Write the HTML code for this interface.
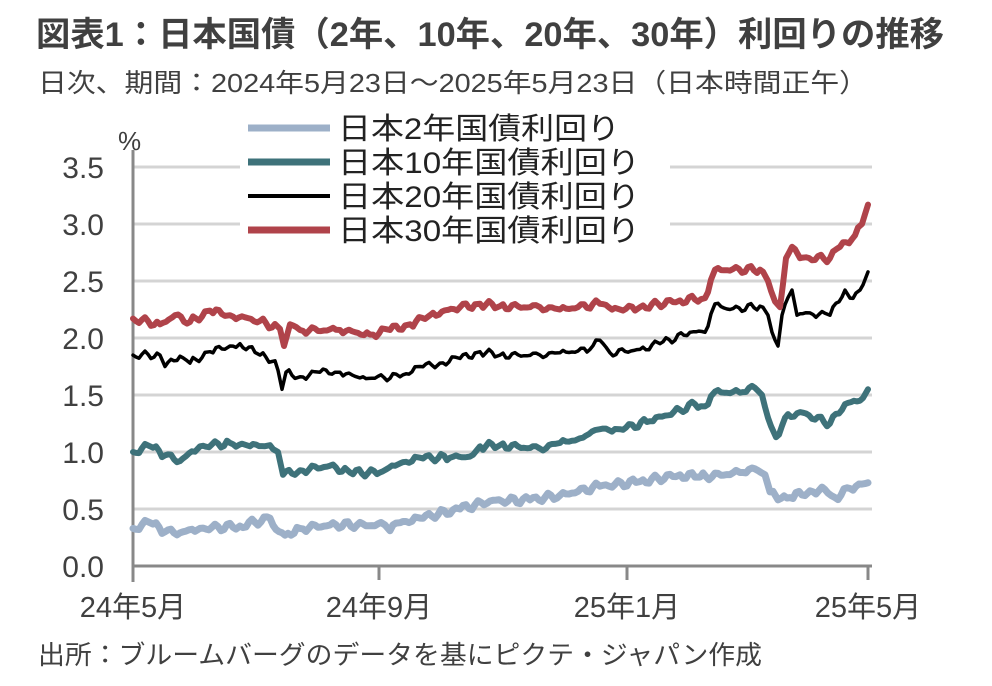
<!DOCTYPE html>
<html><head><meta charset="utf-8"><style>
body{margin:0;background:#fff;width:992px;height:686px;overflow:hidden;font-family:"Liberation Sans","Noto Sans CJK JP",sans-serif;color:#333}
</style></head><body>
<svg id="s" width="992" height="686" xmlns="http://www.w3.org/2000/svg" style="position:absolute;left:0;top:0;font-family:'Liberation Sans','Noto Sans CJK JP',sans-serif">
<text x="36" y="46" font-size="34" font-weight="bold" fill="#404040" textLength="908" lengthAdjust="spacingAndGlyphs">図表1：日本国債（2年、10年、20年、30年）利回りの推移</text>
<text x="38" y="92" font-size="26" fill="#404040" textLength="830" lengthAdjust="spacingAndGlyphs">日次、期間：2024年5月23日～2025年5月23日（日本時間正午）</text>
<text x="118" y="150" font-size="26" fill="#404040">%</text>
<g id="grid" stroke="#d4d4d4" stroke-width="3"></g>
<g fill="#404040" font-size="30" text-anchor="end" id="yl"></g>
<line x1="133" y1="150" x2="133" y2="582" stroke="#888" stroke-width="3"/>
<line x1="133" y1="566" x2="872" y2="566" stroke="#888" stroke-width="3"/>
<g stroke="#888" stroke-width="3"><line x1="379" y1="566" x2="379" y2="580"/><line x1="627" y1="566" x2="627" y2="580"/><line x1="868" y1="566" x2="868" y2="580"/></g>
<g fill="#404040" font-size="29" text-anchor="middle"><text x="133" y="617">24年5月</text><text x="379" y="617">24年9月</text><text x="627" y="617">25年1月</text><text x="868" y="617">25年5月</text></g>
<rect x="240" y="112" width="430" height="135" fill="#fff"/>
<g id="lines" fill="none" stroke-linejoin="round" stroke-linecap="round"></g>
<g stroke-width="7"><line x1="248" y1="128" x2="330" y2="128" stroke="#9db0c8"/><line x1="248" y1="162" x2="330" y2="162" stroke="#3e727a"/><line x1="248" y1="196" x2="330" y2="196" stroke="#000" stroke-width="4"/><line x1="248" y1="230" x2="330" y2="230" stroke="#b0434a"/></g>
<g font-size="30" fill="#222"><text x="338" y="139" textLength="282" lengthAdjust="spacingAndGlyphs">日本2年国債利回り</text><text x="338" y="173" textLength="302" lengthAdjust="spacingAndGlyphs">日本10年国債利回り</text><text x="338" y="207" textLength="302" lengthAdjust="spacingAndGlyphs">日本20年国債利回り</text><text x="338" y="241" textLength="302" lengthAdjust="spacingAndGlyphs">日本30年国債利回り</text></g>
<text x="38" y="664" font-size="26" fill="#404040" textLength="724" lengthAdjust="spacingAndGlyphs">出所：ブルームバーグのデータを基にピクテ・ジャパン作成</text>
</svg>
<script>
var ns="http://www.w3.org/2000/svg";
function Y(v){return 566-114*v}
var g=document.getElementById("grid"),yl=document.getElementById("yl");
for(var i=1;i<=7;i++){var v=i*0.5;var l=document.createElementNS(ns,"line");l.setAttribute("x1",133);l.setAttribute("x2",872);l.setAttribute("y1",Y(v));l.setAttribute("y2",Y(v));g.appendChild(l);}
for(var i=0;i<=7;i++){var t=document.createElementNS(ns,"text");t.setAttribute("x",104);t.setAttribute("y",Y(i*0.5)+11);t.textContent=(i*0.5).toFixed(1);yl.appendChild(t);}
var S=[
["#9db0c8",7,[133,.33,150,.38,165,.3,180,.29,200,.33,240,.35,270,.42,276,.32,285,.27,300,.33,330,.36,385,.36,390,.31,400,.38,420,.42,460,.5,490,.57,530,.58,560,.62,600,.7,640,.74,680,.8,700,.78,740,.82,752,.86,765,.8,770,.65,778,.58,790,.6,810,.66,825,.67,835,.6,850,.68,868,.73]],
["#3e727a",6,[133,1,150,1.05,165,.97,180,.92,200,1.05,230,1.08,250,1.05,270,1.06,278,1,283,.8,300,.84,330,.88,350,.82,380,.82,400,.9,420,.95,450,.95,470,.96,480,1.05,500,1.06,540,1.03,560,1.08,580,1.12,600,1.2,620,1.2,650,1.27,680,1.37,695,1.42,705,1.4,715,1.53,740,1.52,752,1.58,762,1.5,768,1.3,776,1.13,785,1.3,800,1.35,830,1.25,845,1.42,860,1.45,868,1.55]],
["#000",3.5,[133,1.85,160,1.85,165,1.75,180,1.84,190,1.78,210,1.88,230,1.93,240,1.95,260,1.85,275,1.8,282,1.55,286,1.7,300,1.66,320,1.7,340,1.7,360,1.65,400,1.66,420,1.75,440,1.78,460,1.82,480,1.88,500,1.85,540,1.85,560,1.87,590,1.9,600,1.98,610,1.87,640,1.9,660,1.95,690,2.05,705,2.05,715,2.3,730,2.25,760,2.28,768,2.2,772,2.05,778,1.93,782,2.2,792,2.42,797,2.2,810,2.22,830,2.2,845,2.42,850,2.35,860,2.42,868,2.58]],
["#b0434a",6,[133,2.17,160,2.12,175,2.2,190,2.14,210,2.24,230,2.2,260,2.15,280,2.08,284,1.93,290,2.12,300,2.07,340,2.07,370,2.03,390,2.07,410,2.12,430,2.2,460,2.27,480,2.3,500,2.28,540,2.27,560,2.25,600,2.3,620,2.25,640,2.27,680,2.33,705,2.35,715,2.6,760,2.6,768,2.5,775,2.32,780,2.27,786,2.7,792,2.8,800,2.7,830,2.7,840,2.8,855,2.9,862,3,868,3.17]]];
var L=document.getElementById("lines");
S.forEach(function(s){var d=s[2],p=[];for(var i=0;i<d.length;i+=2){var x=d[i];p.push(x+","+Y(d[i+1]).toFixed(1));
if(i+2<d.length){var x2=d[i+2],v2=d[i+3];for(var k=1;k<Math.floor((x2-x)/3);k++){var xx=x+k*3;var vv=d[i+1]+(v2-d[i+1])*k*3/(x2-x)+(Math.sin(xx*1.7)*0.02+Math.sin(xx*0.53)*0.015);p.push(xx+","+Y(vv).toFixed(1));}}}
var pl=document.createElementNS(ns,"polyline");pl.setAttribute("points",p.join(" "));pl.setAttribute("stroke",s[0]);pl.setAttribute("stroke-width",s[1]);L.appendChild(pl);});
</script>
</body></html>
